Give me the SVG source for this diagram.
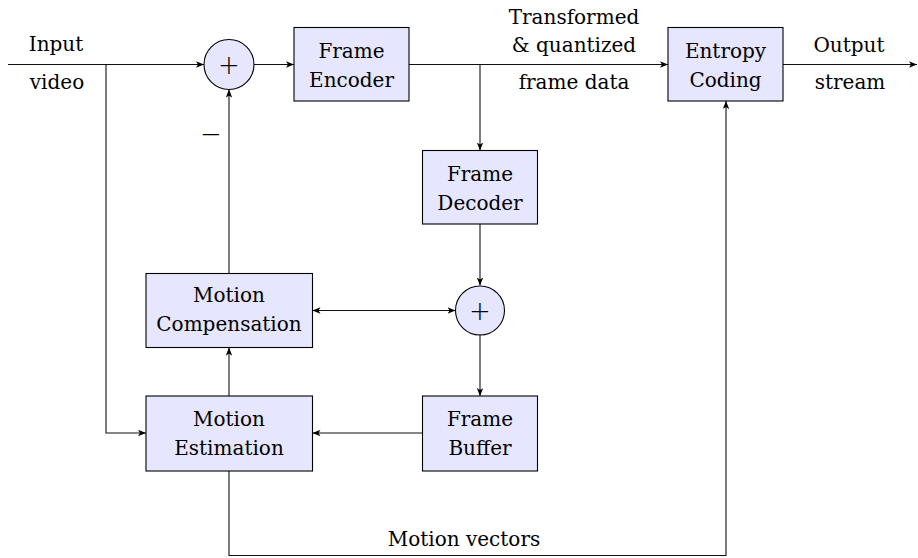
<svg xmlns="http://www.w3.org/2000/svg" width="918" height="558" viewBox="0 0 918 558">
  <defs>
    <marker id="arr" viewBox="0 0 10 8" refX="10" refY="4" markerWidth="8" markerHeight="6.4" markerUnits="userSpaceOnUse" orient="auto-start-reverse">
      <path d="M0,0 L10,4 L0,8 L2.5,4 Z" fill="#000"/>
    </marker>
    <style>
      .box { fill: #E6E6FF; stroke: #000; stroke-width: 1.1; }
      .sum { fill: #E6E6FF; stroke: #000; stroke-width: 1.1; }
      .wire { fill: none; stroke: #111; stroke-width: 1.1; }
      .lbl { font-family: "DejaVu Serif", "Liberation Serif", serif; font-size: 20px; fill: #000; text-anchor: middle; }
      .sym { font-family: "DejaVu Sans", sans-serif; font-size: 26px; font-weight: 200; fill: #000; text-anchor: middle; }
    </style>
  </defs>

  <!-- connectors -->
  <g id="connectors">
    <path class="wire" d="M8,64.5 H204" marker-end="url(#arr)"/>
    <path class="wire" d="M254,64.5 H294" marker-end="url(#arr)"/>
    <path class="wire" d="M409,64.5 H668" marker-end="url(#arr)"/>
    <path class="wire" d="M480,64.5 V150.5" marker-end="url(#arr)"/>
    <path class="wire" d="M783,64.5 H917" marker-end="url(#arr)"/>
    <path class="wire" d="M480,224 V285.5" marker-end="url(#arr)"/>
    <path class="wire" d="M480,334.5 V396" marker-end="url(#arr)"/>
    <path class="wire" d="M422.5,433 H312.5" marker-end="url(#arr)"/>
    <path class="wire" d="M229,396 V347.5" marker-end="url(#arr)"/>
    <path class="wire" d="M229,273.5 V89.5" marker-end="url(#arr)"/>
    <path class="wire" d="M312.5,310.5 H455.5" marker-start="url(#arr)" marker-end="url(#arr)"/>
    <path class="wire" d="M106,64.5 V433 H146" marker-end="url(#arr)"/>
    <path class="wire" d="M229,471 V555.5 H726 V101" marker-end="url(#arr)"/>
  </g>

  <!-- edge labels -->
  <g id="edge-labels">
    <text class="lbl" x="56" y="51">Input</text>
    <text class="lbl" x="57" y="89">video</text>
    <text class="lbl" x="574" y="24">Transformed</text>
    <text class="lbl" x="574" y="52">&amp; quantized</text>
    <text class="lbl" x="574" y="89">frame data</text>
    <text class="lbl" x="849" y="52">Output</text>
    <text class="lbl" x="850" y="89">stream</text>
    <text class="lbl" x="464" y="546">Motion vectors</text>
    <text class="sym" x="211" y="143">−</text>
  </g>

  <!-- nodes -->
  <g id="sum1">
    <circle class="sum" cx="229" cy="64.5" r="25"/>
    <text class="sym" x="229" y="74">+</text>
  </g>
  <g id="frame-encoder">
    <rect class="box" x="294" y="27.5" width="115" height="73.5"/>
    <text class="lbl" x="351.5" y="58">Frame</text>
    <text class="lbl" x="351.5" y="87">Encoder</text>
  </g>
  <g id="entropy-coding">
    <rect class="box" x="668" y="27.5" width="115" height="73.5"/>
    <text class="lbl" x="725.5" y="58">Entropy</text>
    <text class="lbl" x="725.5" y="87">Coding</text>
  </g>
  <g id="frame-decoder">
    <rect class="box" x="422.5" y="150.5" width="115" height="73.5"/>
    <text class="lbl" x="480" y="181">Frame</text>
    <text class="lbl" x="480" y="210">Decoder</text>
  </g>
  <g id="sum2">
    <circle class="sum" cx="480" cy="310.5" r="24.5"/>
    <text class="sym" x="480" y="320">+</text>
  </g>
  <g id="motion-compensation">
    <rect class="box" x="146" y="273.5" width="166.5" height="74"/>
    <text class="lbl" x="229" y="302">Motion</text>
    <text class="lbl" x="229" y="331">Compensation</text>
  </g>
  <g id="motion-estimation">
    <rect class="box" x="146" y="396" width="166.5" height="75"/>
    <text class="lbl" x="229" y="426">Motion</text>
    <text class="lbl" x="229" y="455">Estimation</text>
  </g>
  <g id="frame-buffer">
    <rect class="box" x="422.5" y="396" width="115" height="75"/>
    <text class="lbl" x="480" y="426">Frame</text>
    <text class="lbl" x="480" y="455">Buffer</text>
  </g>
</svg>
